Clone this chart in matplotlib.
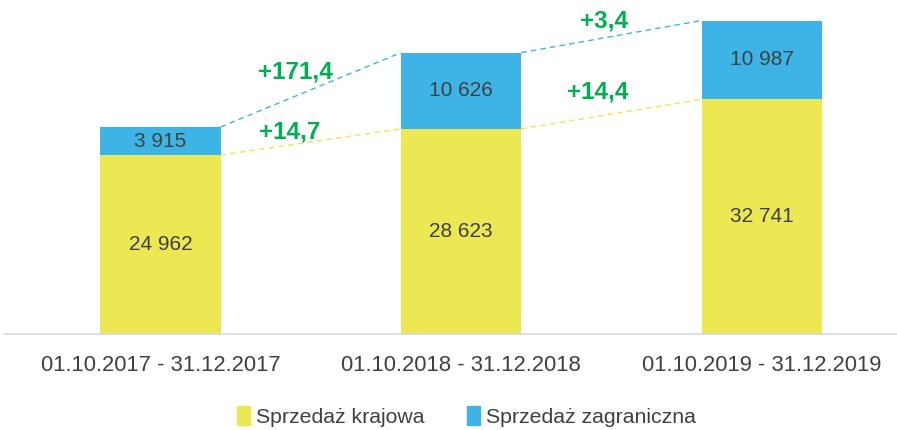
import matplotlib
matplotlib.use("Agg")
import matplotlib.pyplot as plt
from matplotlib.patches import Patch

categories = ["01.10.2017 - 31.12.2017", "01.10.2018 - 31.12.2018", "01.10.2019 - 31.12.2019"]
domestic = [24962, 28623, 32741]
foreign = [3915, 10626, 10987]
domestic_growth = [14.7, 14.4]
foreign_growth = [171.4, 3.4]
series_names = ["Sprzedaż krajowa", "Sprzedaż zagraniczna"]

YELLOW = "#EBE854"
BLUE = "#3EB4E6"
GREEN = "#00B050"
TXT = "#404040"
FONT = ["Liberation Sans", "DejaVu Sans"]

def fmt(v):
    return f"{v:,}".replace(",", " ")

fig = plt.figure(figsize=(8.97, 4.30), dpi=100)
ax = fig.add_axes([5/897, (430-334)/430, 1-5/897, 322.6/430])
x = list(range(len(categories)))
w = 0.4
ax.bar(x, domestic, width=w, color=YELLOW, zorder=2)
tops = [d + f for d, f in zip(domestic, foreign)]
ax.bar(x, foreign, width=w, bottom=domestic, color=BLUE, zorder=2)
ax.set_xlim(-0.517, 2.45)
ax.set_ylim(0, 45000)

for i in x:
    ax.text(i, domestic[i] / 2, fmt(domestic[i]), ha="center", va="center",
            fontsize=15, color=TXT, family=FONT)
    ax.text(i, domestic[i] + foreign[i] / 2, fmt(foreign[i]), ha="center", va="center",
            fontsize=15, color=TXT, family=FONT)

# dashed connectors
for i in range(len(x) - 1):
    ax.plot([x[i] + w/2, x[i+1] - w/2], [domestic[i], domestic[i+1]],
            ls=(0, (4, 3)), color=YELLOW, lw=1, zorder=1)
    ax.plot([x[i] + w/2, x[i+1] - w/2], [tops[i], tops[i+1]],
            ls=(0, (4, 3)), color=BLUE, lw=1, zorder=1)

dom_off = [(-15, 7), (-10, 16)]
for_off = [(-11, 13), (-5, 11)]
for i in range(len(x) - 1):
    mx = (x[i] + x[i+1]) / 2
    ax.annotate(f"+{domestic_growth[i]:.1f}".replace(".", ","),
                xy=(mx, (domestic[i] + domestic[i+1]) / 2), xytext=dom_off[i],
                textcoords="offset points", ha="center", va="center",
                fontsize=17.5, fontweight="bold", color=GREEN, family=FONT)
    ax.annotate(f"+{foreign_growth[i]:.1f}".replace(".", ","),
                xy=(mx, (tops[i] + tops[i+1]) / 2), xytext=for_off[i],
                textcoords="offset points", ha="center", va="center",
                fontsize=17.5, fontweight="bold", color=GREEN, family=FONT)

ax.set_xticks(x)
ax.set_xticklabels(categories, fontsize=15.8, color=TXT, family=FONT)
ax.tick_params(axis="x", length=0, pad=15)
ax.set_yticks([])
for s in ["top", "right", "left"]:
    ax.spines[s].set_visible(False)
ax.spines["bottom"].set_color("#D9D9D9")
ax.spines["bottom"].set_linewidth(1.2)

handles = [Patch(color=YELLOW, label=series_names[0]), Patch(color=BLUE, label=series_names[1])]
fig.legend(handles=handles, loc="center", bbox_to_anchor=(0.52, 0.031), ncol=2,
           frameon=False, handlelength=0.6, handleheight=1.0, handletextpad=0.3,
           columnspacing=2.0, prop={"family": FONT, "size": 15.3}, labelcolor=TXT)

fig.savefig("out.png", dpi=100)
